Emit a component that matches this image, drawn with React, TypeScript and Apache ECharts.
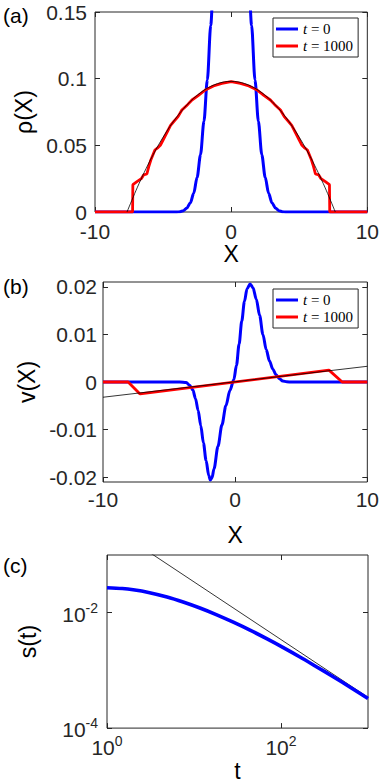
import React, { useEffect, useRef } from "react";
import * as echarts from "echarts";

// ---------- Panel (a): density rho(X) ----------
const aBlueX = [-10, -4, -3.75, -3.5, -3.25, -3, -2.75, -2.5, -2.25, -2, -1.75, -1.5, -1.25, -1, -0.75, -0.5, -0.25, 0,
  0.25, 0.5, 0.75, 1, 1.25, 1.5, 1.75, 2, 2.25, 2.5, 2.75, 3, 3.25, 3.5, 3.75, 4, 10];
const aBlueRho = [0, 0, 0.0002, 0.001, 0.003, 0.0068, 0.014, 0.026, 0.043, 0.068, 0.099, 0.14, 0.186, 0.235, 0.283, 0.325, 0.353, 0.363,
  0.353, 0.325, 0.283, 0.235, 0.186, 0.14, 0.099, 0.068, 0.043, 0.026, 0.014, 0.0068, 0.003, 0.001, 0.0002, 0, 0];

const aRedX = [-10, -7.24, -7.22, -6.92, -6.6, -6.43, -6.19, -6.05, -5.9, -5.6, -5.35, -5.2, -5.0, -4.7, -4.45, -4.23, -3.9, -3.62, -3.2, -2.88, -2.4, -1.9, -1.3, -0.68, 0,
  0.68, 1.3, 1.9, 2.4, 2.88, 3.2, 3.62, 3.9, 4.23, 4.45, 4.7, 5.0, 5.2, 5.35, 5.6, 5.9, 6.05, 6.19, 6.43, 6.6, 6.92, 7.22, 7.24, 10];
const aRedRho = [0, 0, 0.0205, 0.0228, 0.025, 0.0278, 0.0285, 0.034, 0.039, 0.0465, 0.0485, 0.05, 0.054, 0.06, 0.065, 0.0677, 0.0715, 0.0765, 0.0805, 0.084, 0.0875, 0.0915, 0.0945, 0.0965, 0.0978,
  0.0965, 0.0945, 0.0915, 0.0875, 0.084, 0.0805, 0.0765, 0.0715, 0.0677, 0.065, 0.06, 0.054, 0.05, 0.0485, 0.0465, 0.039, 0.034, 0.0285, 0.0278, 0.025, 0.0228, 0.0205, 0, 0];

const aFitX = [-7.65, -7, -6.5, -6, -5.5, -5, -4.5, -4, -3.5, -3, -2.5, -2, -1.5, -1, -0.5, 0, 0.5, 1, 1.5, 2, 2.5, 3, 3.5, 4, 4.5, 5, 5.5, 6, 6.5, 7, 7.65];
const aFitRho = [0, 0.0159, 0.0272, 0.0377, 0.0473, 0.0561, 0.0641, 0.0712, 0.0775, 0.0829, 0.0875, 0.0913, 0.0942, 0.0963, 0.0976, 0.098,
  0.0976, 0.0963, 0.0942, 0.0913, 0.0875, 0.0829, 0.0775, 0.0712, 0.0641, 0.0561, 0.0473, 0.0377, 0.0272, 0.0159, 0];

// ---------- Panel (b): velocity v(X) ----------
const bBlueX = [-10, -4.2, -3.7, -3.45, -3.2, -3.0, -2.8, -2.6, -2.4, -2.2, -2.0, -1.88, -1.75, -1.6, -1.3, -1.0, -0.7, -0.4, -0.1,
  0.1, 0.3, 0.5, 0.7, 0.9, 1.13, 1.35, 1.6, 1.85, 2.1, 2.35, 2.6, 2.85, 3.1, 3.35, 3.6, 3.9, 4.3, 10];
const bBlueV = [0, 0, -0.0001, -0.0007, -0.0017, -0.0035, -0.006, -0.0092, -0.0128, -0.0165, -0.0196, -0.0206, -0.0201, -0.0182, -0.0135, -0.009, -0.005, -0.0018, 0.0005,
  0.0035, 0.008, 0.0128, 0.0169, 0.0196, 0.0206, 0.0198, 0.0174, 0.014, 0.01, 0.0068, 0.0044, 0.0027, 0.0015, 0.0007, 0.0002, 0.00005, 0, 0];

const bRedX = [-10, -8.1, -7.2, 7.1, 8.1, 10];
const bRedV = [0, 0, -0.0025, 0.0025, 0, 0];

const bFitX = [-10, 10];
const bFitV = [-0.0032, 0.0033];

// ---------- Panel (c): s(t) ----------
const cBlueT = [1, 1.5, 2, 3, 4.9, 7.5, 11.7, 18, 28.3, 44, 68.4, 105, 165, 255, 398, 630, 1000];
const cBlueS = [0.0271, 0.02624, 0.025, 0.02249, 0.01875, 0.01535, 0.01208, 0.00929, 0.00685, 0.00499, 0.00355, 0.00251, 0.00171, 0.00116, 0.000778, 0.000507, 0.000327];
const cFitT = [1, 1000];
const cFitS = [0.342, 0.000342];

const aXTicks = [-10, 0, 10];
const aYTicks = [0, 0.05, 0.1, 0.15];
const bYTicks = [-0.02, -0.01, 0, 0.01, 0.02];
const cXTicks = [1, 100];
const cYTicks = [0.0001, 0.01];

const legendNames = ["t = 0", "t = 1000"];

const SANS = '"Liberation Sans", Arial, Helvetica, sans-serif';
const SERIF = '"Liberation Serif", "Times New Roman", serif';
const AX = "#262626";

const zip = (xs: number[], ys: number[]) => xs.map((x, i) => [x, ys[i]]);

export default function App() {
  const ref = useRef<HTMLDivElement>(null);
  useEffect(() => {
    if (!ref.current) return;
    const chart = echarts.init(ref.current, undefined, { renderer: "svg" });

    const tick = { show: true, inside: true, length: 5, lineStyle: { color: AX, width: 1 } };
    const noLine = { show: false, onZero: false };
    const lbl = { color: AX, fontFamily: SANS, fontSize: 21 };
    const nameStyle = { color: "#000", fontFamily: SANS, fontSize: 23 };
    const supRich = {
      b: { fontFamily: SANS, fontSize: 21, color: AX, lineHeight: 24, verticalAlign: "bottom" },
      s: { fontFamily: SANS, fontSize: 14, color: AX, lineHeight: 14, verticalAlign: "top" },
    };
    const logFmt = (v: number) => `{b|10}{s|${Math.round(Math.log10(v))}}`;

    const valX = (grid: number, pos: "bottom" | "top", extra: any = {}) => ({
      type: "value", gridIndex: grid, position: pos, min: -10, max: 10, interval: 10,
      axisLine: noLine, splitLine: { show: false },
      axisTick: { ...tick, customValues: aXTicks }, axisLabel: { show: false },
      ...extra,
    });

    const legendBase = {
      orient: "vertical", data: legendNames, icon: "rect", itemWidth: 22, itemHeight: 3,
      itemGap: 1, padding: [3, 5, 3, 3], borderColor: AX, borderWidth: 1, backgroundColor: "#fff",
      formatter: (n: string) => `{i|t}{n| = ${n.split("= ")[1]}}`,
      textStyle: {
        lineHeight: 16,
        rich: {
          i: { fontFamily: SERIF, fontStyle: "italic", fontSize: 15, color: "#000", lineHeight: 16 },
          n: { fontFamily: SERIF, fontSize: 15, color: "#000", lineHeight: 16 },
        },
      },
      selectedMode: false,
    };

    const option: any = {
      animation: false,
      grid: [
        { left: 95, top: 12, width: 273, height: 200, show: true, borderColor: AX, borderWidth: 1, backgroundColor: "transparent" },
        { left: 103, top: 282, width: 265, height: 200, show: true, borderColor: AX, borderWidth: 1, backgroundColor: "transparent" },
        { left: 107, top: 555, width: 261, height: 186, show: true, borderColor: AX, borderWidth: 1, backgroundColor: "transparent" },
      ],
      legend: [
        { ...legendBase, left: 273, top: 18 },
        { ...legendBase, left: 273, top: 289 },
      ],
      xAxis: [
        valX(0, "bottom", { name: "X", nameLocation: "middle", nameGap: 25, nameTextStyle: nameStyle, axisLabel: { ...lbl, margin: 9, customValues: aXTicks } }),
        valX(0, "top"),
        valX(1, "bottom", { name: "X", nameLocation: "middle", nameGap: 41, nameTextStyle: nameStyle, axisLabel: { ...lbl, margin: 7, customValues: aXTicks } }),
        valX(1, "top"),
        {
          type: "log", logBase: 10, gridIndex: 2, position: "bottom", min: 1, max: 1000,
          name: "t", nameLocation: "middle", nameGap: 22, nameTextStyle: nameStyle,
          axisLine: noLine, splitLine: { show: false }, minorTick: { show: false },
          axisTick: { ...tick, customValues: cXTicks },
          axisLabel: { margin: 6, formatter: logFmt, rich: supRich, customValues: cXTicks },
        },
        {
          type: "log", logBase: 10, gridIndex: 2, position: "top", min: 1, max: 1000,
          axisLine: noLine, splitLine: { show: false },
          axisTick: { ...tick, customValues: cXTicks }, axisLabel: { show: false },
        },
      ],
      yAxis: [
        {
          type: "value", gridIndex: 0, position: "left", min: 0, max: 0.15, interval: 0.05,
          name: "ρ(X)", nameLocation: "middle", nameGap: 56, nameTextStyle: nameStyle,
          axisLine: noLine, splitLine: { show: false }, axisTick: { ...tick, customValues: aYTicks },
          axisLabel: { ...lbl, margin: 8, customValues: aYTicks },
        },
        {
          type: "value", gridIndex: 0, position: "right", min: 0, max: 0.15, interval: 0.05,
          axisLine: noLine, splitLine: { show: false }, axisTick: { ...tick, customValues: aYTicks }, axisLabel: { show: false },
        },
        {
          type: "value", gridIndex: 1, position: "left", min: -0.021, max: 0.021,
          name: "v(X)", nameLocation: "middle", nameGap: 64, nameTextStyle: nameStyle,
          axisLine: noLine, splitLine: { show: false },
          axisTick: { ...tick, customValues: bYTicks },
          axisLabel: { ...lbl, margin: 6, customValues: bYTicks },
        },
        {
          type: "value", gridIndex: 1, position: "right", min: -0.021, max: 0.021,
          axisLine: noLine, splitLine: { show: false },
          axisTick: { ...tick, customValues: bYTicks }, axisLabel: { show: false },
        },
        {
          type: "log", logBase: 10, gridIndex: 2, position: "left", min: 0.0001, max: 0.1,
          name: "s(t)", nameLocation: "middle", nameGap: 68, nameTextStyle: nameStyle,
          axisLine: noLine, splitLine: { show: false }, minorTick: { show: false },
          axisTick: { ...tick, customValues: cYTicks },
          axisLabel: { margin: 9, formatter: logFmt, rich: supRich, customValues: cYTicks },
        },
        {
          type: "log", logBase: 10, gridIndex: 2, position: "right", min: 0.0001, max: 0.1,
          axisLine: noLine, splitLine: { show: false },
          axisTick: { ...tick, customValues: cYTicks }, axisLabel: { show: false },
        },
      ],
      series: [
        { name: "t = 0", type: "line", xAxisIndex: 0, yAxisIndex: 0, data: zip(aBlueX, aBlueRho), showSymbol: false, smooth: 0.3, smoothMonotone: "x", lineStyle: { color: "#0000ff", width: 3 }, itemStyle: { color: "#0000ff" }, z: 2 },
        { name: "t = 1000", type: "line", xAxisIndex: 0, yAxisIndex: 0, data: zip(aRedX, aRedRho), showSymbol: false, lineStyle: { color: "#ff0000", width: 2.8 }, itemStyle: { color: "#ff0000" }, z: 3 },
        { name: "fitA", type: "line", xAxisIndex: 0, yAxisIndex: 0, data: zip(aFitX, aFitRho), showSymbol: false, smooth: 0.3, lineStyle: { color: "#000", width: 0.8 }, z: 4 },

        { name: "t = 0", type: "line", xAxisIndex: 2, yAxisIndex: 2, data: zip(bBlueX, bBlueV), showSymbol: false, smooth: 0.3, smoothMonotone: "x", lineStyle: { color: "#0000ff", width: 3 }, itemStyle: { color: "#0000ff" }, z: 2 },
        { name: "t = 1000", type: "line", xAxisIndex: 2, yAxisIndex: 2, data: zip(bRedX, bRedV), showSymbol: false, lineStyle: { color: "#ff0000", width: 2.8 }, itemStyle: { color: "#ff0000" }, z: 3 },
        { name: "fitB", type: "line", xAxisIndex: 2, yAxisIndex: 2, data: zip(bFitX, bFitV), showSymbol: false, lineStyle: { color: "#000", width: 0.8 }, z: 4 },

        { name: "fitC", type: "line", xAxisIndex: 4, yAxisIndex: 4, data: zip(cFitT, cFitS), showSymbol: false, lineStyle: { color: "#000", width: 0.8 }, z: 2 },
        { name: "sC", type: "line", xAxisIndex: 4, yAxisIndex: 4, data: zip(cBlueT, cBlueS), showSymbol: false, smooth: 0.3, lineStyle: { color: "#0000ff", width: 3.6 }, z: 3 },
      ],
      graphic: [
        { type: "text", left: 3, top: 5, style: { text: "(a)", fontFamily: SANS, fontSize: 21, fill: "#000" } },
        { type: "text", left: 3, top: 276, style: { text: "(b)", fontFamily: SANS, fontSize: 21, fill: "#000" } },
        { type: "text", left: 3, top: 555, style: { text: "(c)", fontFamily: SANS, fontSize: 21, fill: "#000" } },
      ],
    };
    chart.setOption(option);
    return () => chart.dispose();
  }, []);

  return <div ref={ref} style={{ position: "absolute", left: 0, top: 0, width: 382, height: 783, background: "#fff" }} />;
}
